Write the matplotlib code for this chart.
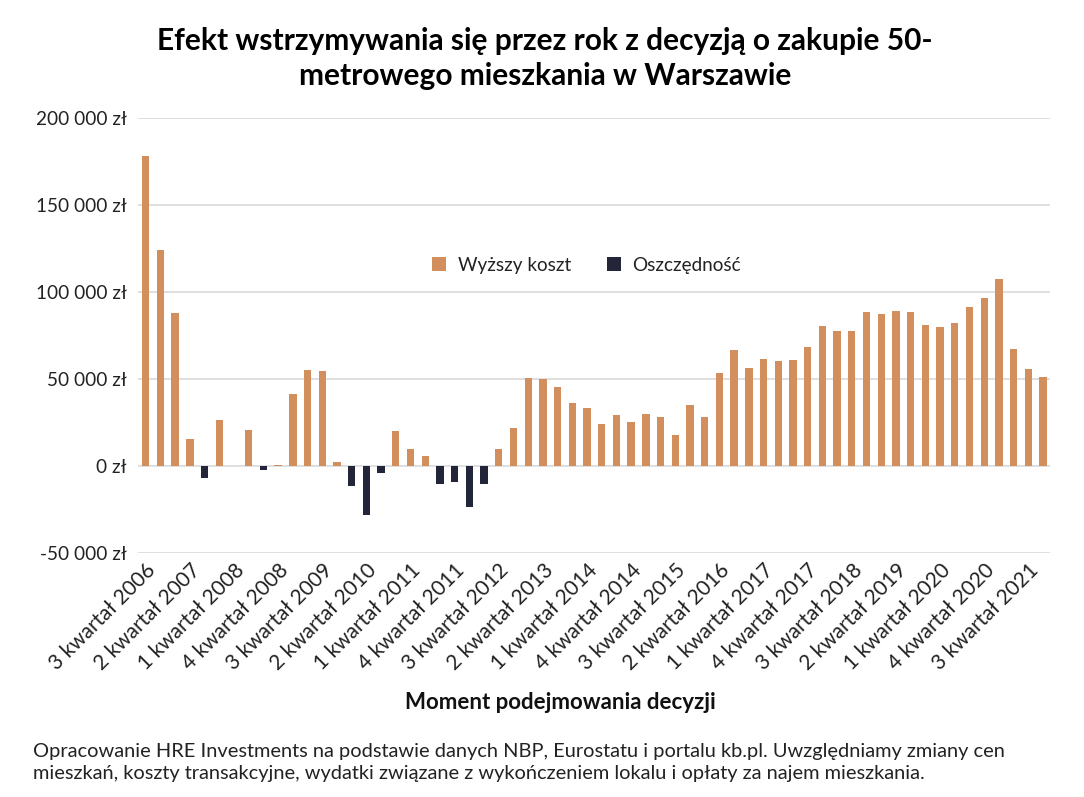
import matplotlib
matplotlib.use("Agg")
import matplotlib.pyplot as plt
import numpy as np

plt.rcParams['font.family'] = ['Lato', 'DejaVu Sans']

quarters = [f"{q} kwartał {y}" for y in range(2006, 2022) for q in (1, 2, 3, 4)][2:]

wyzszy_koszt = [178000, 124300, 87900, 15500, 0, 26300, 0, 20700, 0, 600,
                41200, 55400, 54800, 2300, 0, 0, 0, 20300, 10000, 5600,
                0, 0, 0, 0, 10000, 22000, 50600, 50000, 45400, 36200,
                33300, 24100, 29300, 25100, 30100, 28200, 17800, 34900, 28200, 53400,
                66500, 56400, 61300, 60200, 60700, 68200, 80300, 77800, 77400, 88300,
                87100, 89200, 88300, 80800, 79700, 82000, 91500, 96500, 107400, 67200,
                56000, 51400]
oszczednosc = [0, 0, 0, 0, -6700, 0, 0, 0, -2500, 0,
               0, 0, 0, 0, -11200, -28200, -3700, 0, 0, 0,
               -10300, -9000, -23300, -10300, 0, 0, 0, 0, 0, 0,
               0, 0, 0, 0, 0, 0, 0, 0, 0, 0,
               0, 0, 0, 0, 0, 0, 0, 0, 0, 0,
               0, 0, 0, 0, 0, 0, 0, 0, 0, 0,
               0, 0]
yticks = [-50000, 0, 50000, 100000, 150000, 200000]
ytick_labels = ["-50 000 zł", "0 zł", "50 000 zł", "100 000 zł", "150 000 zł", "200 000 zł"]

fig = plt.figure(figsize=(10.84, 7.97), dpi=100)
ax = fig.add_axes([0.127, 0.306, 0.842, 0.546])

x = np.arange(len(quarters))
ax.bar(x, wyzszy_koszt, width=0.5, color='#D38E5D', label='Wyższy koszt', zorder=3)
ax.bar(x, oszczednosc, width=0.5, color='#222638', label='Oszczędność', zorder=3)

ax.set_ylim(-50000, 200000)
ax.set_xlim(-0.55, 61.5)
ax.set_yticks(yticks)
ax.set_yticklabels(ytick_labels, fontsize=13.7, color='#222222')
ax.set_xticks(x[::3])
ax.set_xticklabels(quarters[::3], rotation=45, ha='right', rotation_mode='anchor',
                   fontsize=15, color='#222222')
ax.grid(axis='y', color='#D9D9D9', linewidth=1.2, zorder=0)
for s in ax.spines.values():
    s.set_visible(False)
ax.tick_params(axis='y', length=0, pad=8)
ax.tick_params(axis='x', length=0, pad=5)

fig.text(0.517, 0.118, "Moment podejmowania decyzji", ha='center', va='center',
         fontsize=16, fontweight='bold', color='#111111')

fig.text(0.503, 0.927, "Efekt wstrzymywania się przez rok z decyzją o zakupie 50-\nmetrowego mieszkania w Warszawie",
         ha='center', va='center', fontsize=21.5, fontweight='bold', linespacing=1.32)

leg = fig.legend(loc='center', bbox_to_anchor=(0.541, 0.667), ncol=2, frameon=False,
                 fontsize=13.6, handlelength=0.75, handleheight=0.75, columnspacing=1.9,
                 handletextpad=0.6)
for t in leg.get_texts():
    t.set_color('#222222')

fig.text(0.03, 0.043, "Opracowanie HRE Investments na podstawie danych NBP, Eurostatu i portalu kb.pl. Uwzględniamy zmiany cen\nmieszkań, koszty transakcyjne, wydatki związane z wykończeniem lokalu i opłaty za najem mieszkania.",
         ha='left', va='center', fontsize=14.4, linespacing=1.38, color='#222222')

fig.savefig("out.png", dpi=100)
